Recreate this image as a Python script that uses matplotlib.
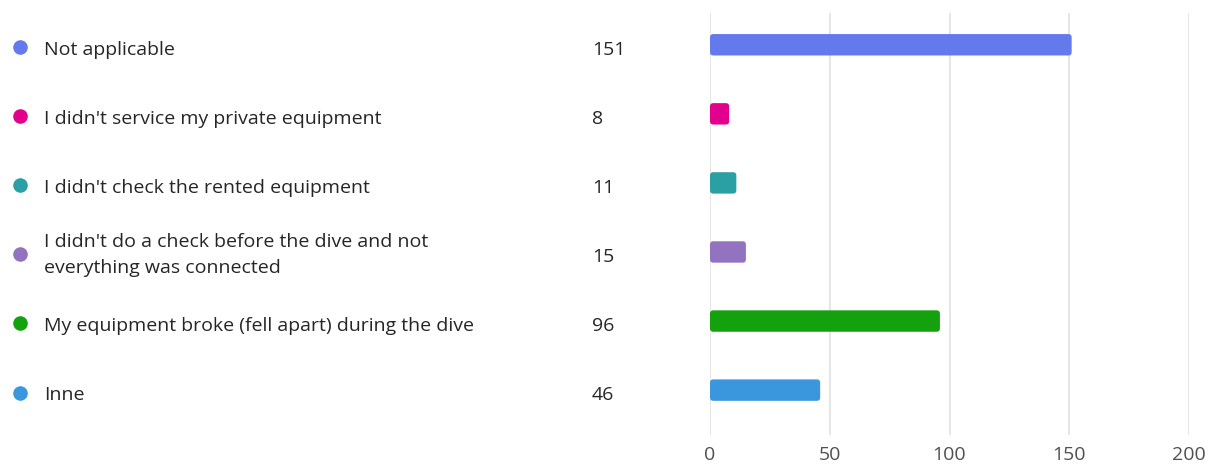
import matplotlib.pyplot as plt
from matplotlib.patches import FancyBboxPatch
from matplotlib.transforms import blended_transform_factory

answers = [
    "Not applicable",
    "I didn't service my private equipment",
    "I didn't check the rented equipment",
    "I didn't do a check before the dive and not\neverything was connected",
    "My equipment broke (fell apart) during the dive",
    "Inne",
]
counts = [151, 8, 11, 15, 96, 46]
colors = ["#6479EB", "#E3008C", "#2AA0A4", "#9373C0", "#13A10E", "#3A96DD"]
ticks = [0, 50, 100, 150, 200]

plt.rcParams['font.family'] = ['Open Sans', 'DejaVu Sans']

fig = plt.figure(figsize=(12.19, 4.66), dpi=100)
ax = fig.add_axes([710 / 1219, 31 / 466, 479 / 1219, 422 / 466])

rows = list(range(len(answers)))
bars = ax.barh(rows, counts, height=0.31, color=colors)

# swap the square bars for rounded ones
for b in bars:
    b.set_visible(False)
    ax.add_patch(FancyBboxPatch((b.get_x(), b.get_y()), b.get_width(), b.get_height(),
                                boxstyle="round,pad=0,rounding_size=1.4",
                                mutation_aspect=0.035, facecolor=b.get_facecolor(),
                                edgecolor="none", zorder=3))

ax.set_xlim(0, 200)
ax.set_ylim(5.65, -0.46)
ax.set_xticks(ticks)
ax.set_yticks([])
ax.grid(axis='x', color='#e3e3e3', linewidth=1.3)
ax.set_axisbelow(True)
for s in ax.spines.values():
    s.set_visible(False)
ax.tick_params(axis='x', length=0, pad=8, labelsize=14, labelcolor='#505050')

# legend-like labels on the left with counts
tr = blended_transform_factory(fig.transFigure, ax.transData)
for i, (label, n, c) in enumerate(zip(answers, counts, colors)):
    ax.plot([20 / 1219], [i + 0.035], marker='o', markersize=10.5, color=c,
            transform=tr, clip_on=False, markeredgewidth=0)
    lines = label.split("\n")
    if len(lines) == 1:
        ax.text(44 / 1219, i + 0.145, label, transform=tr, va='baseline', ha='left',
                fontsize=14, color='#262626')
    else:
        ax.text(44 / 1219, i - 0.07, lines[0], transform=tr, va='baseline', ha='left',
                fontsize=14, color='#262626')
        ax.text(44 / 1219, i + 0.30, lines[1], transform=tr, va='baseline', ha='left',
                fontsize=14, color='#262626')
    ax.text(592 / 1219, i + 0.145, str(n), transform=tr, va='baseline', ha='left',
            fontsize=14, color='#262626')

fig.savefig("out.png", dpi=100)
